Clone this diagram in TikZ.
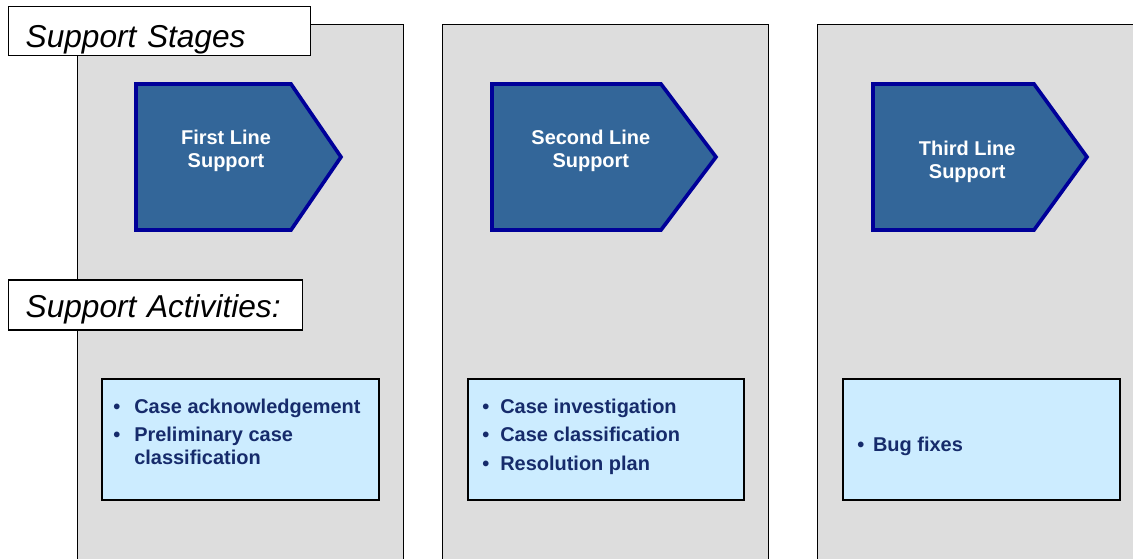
\documentclass[tikz,border=0pt]{standalone}
\usepackage{fontspec}
\setsansfont{Liberation Sans}
\usepackage{xcolor}
\usepackage{tikz}
\usetikzlibrary{positioning, calc}
\definecolor{stagefill}{RGB}{51, 102, 153}
\definecolor{stageborder}{RGB}{0, 0, 153}
\definecolor{panelgray}{RGB}{221, 221, 221}
\definecolor{actfill}{RGB}{204, 236, 255}
\definecolor{actnavy}{RGB}{22, 43, 107}
\tikzset{
  font=\sffamily,
  panel/.style={
    rectangle, draw=black, fill=panelgray, line width=1pt,
    minimum width=8.15cm, minimum height=14cm, anchor=north west, inner sep=0pt
  },
  tagbox/.style={
    rectangle, draw=black, fill=white, line width=1pt,
    inner xsep=0.425cm, inner ysep=0pt, anchor=north west, align=left,
    font=\sffamily\itshape\fontsize{22.5}{27}\selectfont
  },
  stagearrow/.style={draw=stageborder, fill=stagefill, line width=2.6pt, line join=miter},
  stagetext/.style={
    text=white, align=center, inner sep=0pt,
    font=\sffamily\bfseries\fontsize{14.2}{16.4}\selectfont
  },
  actbox/.style={
    rectangle, draw=black, fill=actfill, line width=1.4pt,
    minimum height=3.025cm, anchor=north west, inner sep=0pt
  },
  actlist/.style={
    anchor=base west, inner sep=0pt, text=actnavy,
    font=\sffamily\bfseries\fontsize{14.2}{15.9}\selectfont
  }
}

\begin{document}
\begin{tikzpicture}

  \useasboundingbox (0,0) rectangle (28.325,-13.975);
  \clip (0,0) rectangle (28.325,-13.975);

  % Grey columns, one per support line
  \node[panel] (col1) at (1.925,-0.6) {};
  \node[panel] (col2) at (11.05,-0.6) {};
  \node[panel] (col3) at (20.425,-0.6) {};

  % Row headings
  \node[tagbox, text width=6.7cm, text height=1.0325cm, text depth=0.2cm] (stagestag) at (0.2,-0.14) {Support Stages};
  \node[tagbox, text width=6.5cm, text height=0.935cm, text depth=0.315cm] (activitiestag) at (0.2,-6.98) {Support Activities:};

  % Stage 1: First line
  \draw[stagearrow] (3.4,-2.1) -- (7.275,-2.1) -- (8.525,-3.925) -- (7.275,-5.75) -- (3.4,-5.75) -- cycle;
  \node[stagetext] (stage1) at (5.65,-3.78) {First Line\\Support};

  % Stage 2: Second line
  \draw[stagearrow] (12.3,-2.1) -- (16.525,-2.1) -- (17.9,-3.925) -- (16.525,-5.75) -- (12.3,-5.75) -- cycle;
  \node[stagetext] (stage2) at (14.77,-3.78) {Second Line\\Support};

  % Stage 3: Third line
  \draw[stagearrow] (21.825,-2.1) -- (25.85,-2.1) -- (27.175,-3.925) -- (25.85,-5.75) -- (21.825,-5.75) -- cycle;
  \node[stagetext] (stage3) at (24.18,-4.05) {Third Line\\Support};

  % Activity boxes
  \node[actbox, minimum width=6.925cm] (act1) at (2.525,-9.45) {};
  \node[actbox, minimum width=6.9cm] (act2) at (11.675,-9.45) {};
  \node[actbox, minimum width=6.925cm] (act3) at (21.05,-9.45) {};

  \node[actlist] (act1list) at (2.825,-10.325) {%
    \begin{tabular}[t]{@{}l@{\hspace{0.35cm}}l@{}}
      \textbullet & Case acknowledgement\\[4.6pt]
      \textbullet & Preliminary case\\
                  & classification
    \end{tabular}};
  \node[actlist] (act2list) at (12.05,-10.325) {%
    \begin{tabular}[t]{@{}l@{\hspace{0.275cm}}l@{}}
      \textbullet & Case investigation\\[4.6pt]
      \textbullet & Case classification\\[4.6pt]
      \textbullet & Resolution plan
    \end{tabular}};
  \node[actlist] (act3list) at (21.425,-11.29) {\textbullet\hspace{0.22cm}Bug fixes};

\end{tikzpicture}
\end{document}
